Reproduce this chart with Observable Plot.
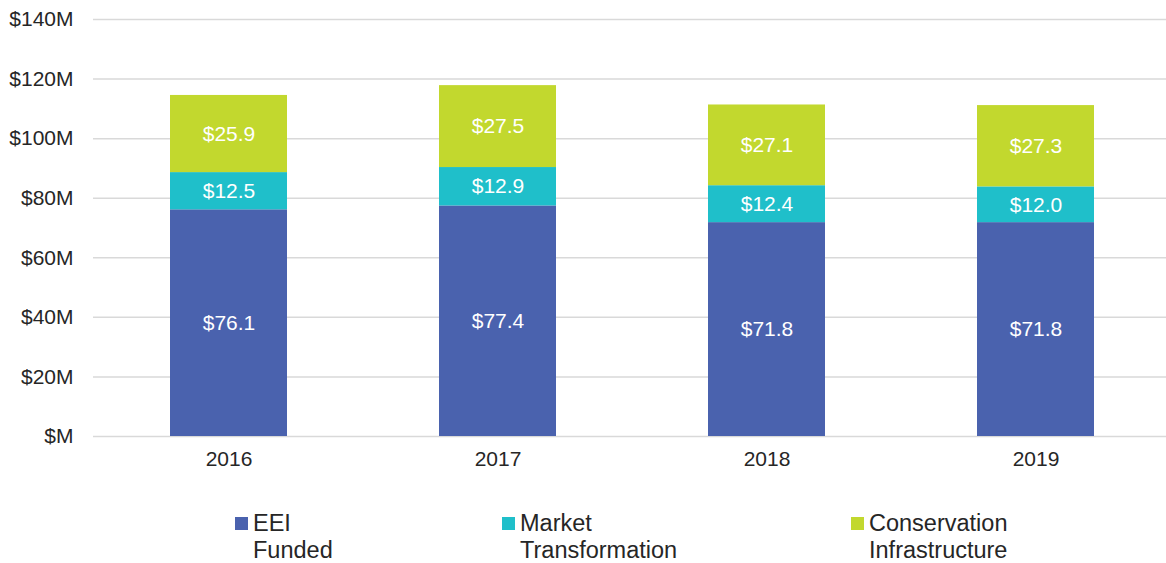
<!DOCTYPE html>
<html>
<head>
<meta charset="utf-8">
<script src="https://cdn.jsdelivr.net/npm/d3@7"></script>
<script src="https://cdn.jsdelivr.net/npm/@observablehq/plot@0.6"></script>
<style>
  html, body { margin: 0; padding: 0; background: #fff; }
  body { width: 1166px; height: 563px; position: relative; overflow: hidden; font-family: "Liberation Sans", Arial, sans-serif; }
  #chart svg { display: block; }
  .leg { position: absolute; top: 510px; font-size: 23.5px; line-height: 27px; color: #262626; }
  .leg .sw { position: absolute; left: -18px; top: 7px; width: 13px; height: 13px; }
</style>
</head>
<body>
<div id="chart"></div>
<div id="legend"></div>
<script>
const years = ["2016", "2017", "2018", "2019"];
const seriesNames = ["EEI Funded", "Market Transformation", "Conservation Infrastructure"];
const legendLines = [["EEI", "Funded"], ["Market", "Transformation"], ["Conservation", "Infrastructure"]];
const colors = ["#4a62ae", "#1fbfca", "#c2d82e"];
const eeiFunded = [76.1, 77.4, 71.8, 71.8];
const marketTransformation = [12.5, 12.9, 12.4, 12.0];
const conservationInfrastructure = [25.9, 27.5, 27.1, 27.3];
const yTicks = [0, 20, 40, 60, 80, 100, 120, 140];

const seriesValues = [eeiFunded, marketTransformation, conservationInfrastructure];
const data = [];
seriesNames.forEach((s, si) => {
  years.forEach((y, yi) => data.push({ year: y, series: s, value: seriesValues[si][yi] }));
});

const chart = Plot.plot({
  width: 1166,
  height: 490,
  marginTop: 19,
  marginBottom: 54,
  marginLeft: 93,
  marginRight: 0,
  style: { fontFamily: "'Liberation Sans', Arial, sans-serif", fontSize: "21px", color: "#262626", background: "#fff" },
  x: { domain: years, range: [93, 1171], paddingInner: 0.566, paddingOuter: 0.283, label: null },
  y: { domain: [0, 140], label: null },
  color: { domain: seriesNames, range: colors },
  marks: [
    Plot.ruleY(yTicks, { stroke: "#d9d9d9", strokeWidth: 1.5 }),
    Plot.barY(data, Plot.stackY({ x: "year", y: "value", fill: "series", order: null })),
    Plot.text(data, Plot.stackY({ x: "year", y: "value", order: null, text: d => "$" + d.value.toFixed(1), fill: "white", fontSize: 21 })),
    Plot.axisY(yTicks, { tickSize: 0, tickPadding: 20, tickFormat: d => d === 0 ? "$M" : `$${d}M`, fontSize: 21, fill: "#262626" }),
    Plot.axisX({ tickSize: 0, tickPadding: 15, fontSize: 21, fill: "#262626" })
  ]
});
document.getElementById("chart").appendChild(chart);

const lefts = [253, 520, 869];
const legend = document.getElementById("legend");
legendLines.forEach((lines, i) => {
  const div = document.createElement("div");
  div.className = "leg";
  div.style.left = lefts[i] + "px";
  const sw = document.createElement("span");
  sw.className = "sw";
  sw.style.background = colors[i];
  div.appendChild(sw);
  div.appendChild(document.createTextNode(lines[0]));
  div.appendChild(document.createElement("br"));
  div.appendChild(document.createTextNode(lines[1]));
  legend.appendChild(div);
});
</script>
</body>
</html>
